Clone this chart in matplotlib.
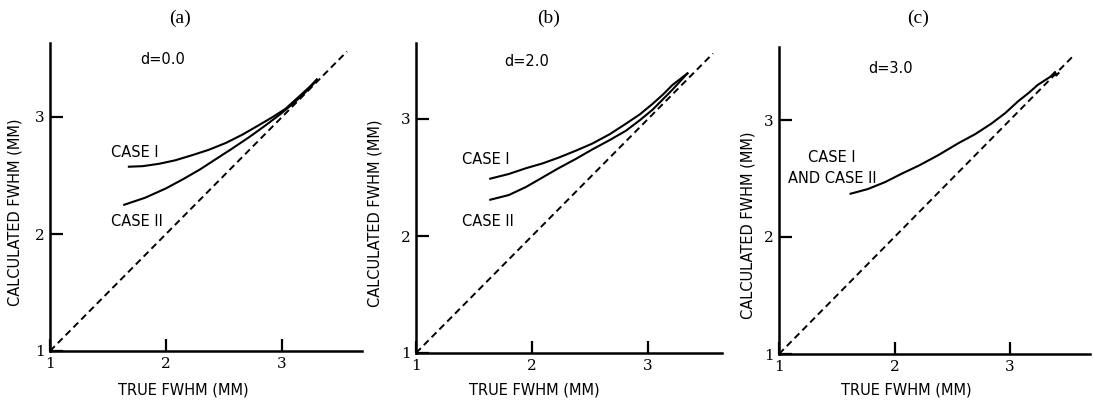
import matplotlib
matplotlib.use("Agg")
import matplotlib.pyplot as plt

# ---- data ----
titles = ["(a)", "(b)", "(c)"]
ticks = [1, 2, 3]

diag_x = [1.0, 3.56]
diag_y = [1.0, 3.56]

# panel (a)
a_case1_x = [1.68, 1.80, 1.94, 2.08, 2.23, 2.37, 2.52, 2.66, 2.80, 2.92, 3.03, 3.13, 3.23, 3.30]
a_case1_y = [2.575, 2.58, 2.60, 2.63, 2.675, 2.72, 2.78, 2.85, 2.93, 3.00, 3.07, 3.16, 3.25, 3.32]
a_case2_x = [1.64, 1.82, 2.00, 2.15, 2.29, 2.43, 2.57, 2.72, 2.86, 2.98, 3.09, 3.18, 3.26, 3.30]
a_case2_y = [2.25, 2.31, 2.39, 2.47, 2.55, 2.64, 2.73, 2.83, 2.93, 3.02, 3.11, 3.19, 3.27, 3.32]

# panel (b)
b_case1_x = [1.64, 1.80, 1.95, 2.09, 2.23, 2.38, 2.52, 2.67, 2.81, 2.93, 3.04, 3.13, 3.21, 3.34]
b_case1_y = [2.49, 2.53, 2.58, 2.62, 2.67, 2.73, 2.79, 2.87, 2.96, 3.04, 3.13, 3.21, 3.29, 3.39]
b_case2_x = [1.64, 1.80, 1.95, 2.09, 2.23, 2.38, 2.52, 2.67, 2.81, 2.93, 3.04, 3.13, 3.21, 3.34]
b_case2_y = [2.31, 2.35, 2.42, 2.50, 2.58, 2.66, 2.74, 2.82, 2.90, 2.99, 3.08, 3.17, 3.25, 3.39]

# panel (c)
c_case_x = [1.62, 1.77, 1.92, 2.06, 2.21, 2.38, 2.55, 2.70, 2.84, 2.96, 3.07, 3.16, 3.24, 3.35, 3.39, 3.40, 3.42]
c_case_y = [2.37, 2.41, 2.47, 2.54, 2.61, 2.70, 2.80, 2.88, 2.97, 3.06, 3.16, 3.23, 3.30, 3.37, 3.41, 3.38, 3.40]

curves = [
    [(a_case1_x, a_case1_y), (a_case2_x, a_case2_y)],
    [(b_case1_x, b_case1_y), (b_case2_x, b_case2_y)],
    [(c_case_x, c_case_y)],
]

annotations = [
    [("d=0.0", 1.97, 3.49, "center"), ("CASE I", 1.53, 2.70, "left"), ("CASE II", 1.53, 2.11, "left")],
    [("d=2.0", 1.95, 3.49, "center"), ("CASE I", 1.40, 2.65, "left"), ("CASE II", 1.40, 2.12, "left")],
    [("d=3.0", 1.97, 3.44, "center"), ("CASE I", 1.46, 2.68, "center"), ("AND CASE II", 1.46, 2.50, "center")],
]

# ---- layout ----
W, H = 1093, 401
fig = plt.figure(figsize=(W / 100, H / 100), dpi=100)

# left px, axis-line y px, right px, top px (pixels from top-left)
panels = [
    (50, 351, 362, 43),
    (416, 353, 722, 43),
    (779, 354, 1090, 47),
]
unit_x = [116.0, 116.0, 115.5]
unit_y = 117.0
title_x = [180, 549, 918]
xlabel_pos = [(0.426, -0.127), (0.387, -0.119), (0.408, -0.117)]
ylabel_pos = [(-0.112, 0.45), (-0.135, 0.45), (-0.10, 0.42)]

txt_font = dict(family="DejaVu Sans")

for i, (l, b, r, t) in enumerate(panels):
    ax = fig.add_axes([l / W, (H - b) / H, (r - l) / W, (b - t) / H])
    ax.set_xlim(1, 1 + (r - l) / unit_x[i])
    ax.set_ylim(1, 1 + (b - t) / unit_y)
    for s in ["top", "right"]:
        ax.spines[s].set_visible(False)
    for s in ["left", "bottom"]:
        ax.spines[s].set_linewidth(1.8)
    ax.set_xticks(ticks)
    ax.set_yticks(ticks)
    ax.set_xticklabels([str(v) for v in ticks], fontsize=11, family="DejaVu Serif")
    ax.set_yticklabels([str(v) for v in ticks], fontsize=11, family="DejaVu Serif")
    ax.tick_params(direction="in", length=9, width=1.6, pad=4)

    ax.plot(diag_x, diag_y, color="black", lw=1.4, ls=(0, (3.5, 2.2)))
    for cx, cy in curves[i]:
        ax.plot(cx, cy, color="black", lw=1.5)
    for txt, x, y, ha in annotations[i]:
        ax.text(x, y, txt, ha=ha, va="center", fontsize=10.5, **txt_font)

    ax.set_xlabel("TRUE FWHM (MM)", fontsize=10.5, va="center", **txt_font)
    ax.xaxis.set_label_coords(*xlabel_pos[i])
    ax.set_ylabel("CALCULATED FWHM (MM)", fontsize=10.5, va="center", **txt_font)
    ax.yaxis.set_label_coords(*ylabel_pos[i])
    fig.text(title_x[i] / W, 1 - 18 / H, titles[i], ha="center", va="center",
             fontsize=14, family="Liberation Serif")

fig.savefig("out.png", dpi=100)
